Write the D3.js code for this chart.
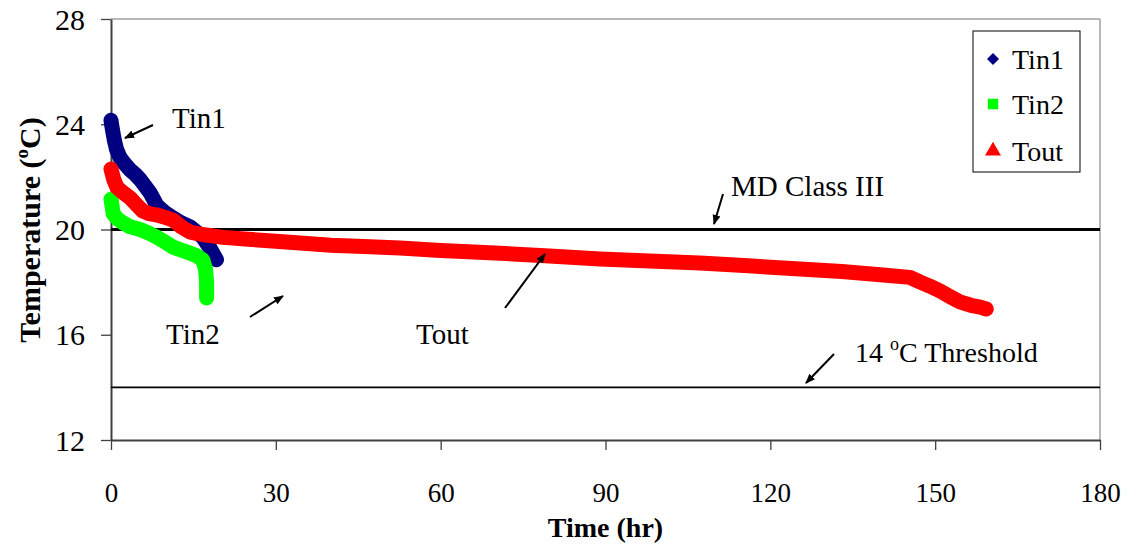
<!DOCTYPE html>
<html><head><meta charset="utf-8">
<script src="https://cdn.jsdelivr.net/npm/d3@7"></script>
<style>body{margin:0;background:#fff}svg{display:block}text{font-family:"Liberation Serif","Times New Roman",serif;fill:#000}</style>
</head><body><svg id="c" width="1136" height="547"></svg>
<script>
// ---- data ----
const xTicks = [0, 30, 60, 90, 120, 150, 180];
const yTicks = [12, 16, 20, 24, 28];
const seriesNames = ["Tin1", "Tin2", "Tout"];
const tin1Time = [0, 0.1, 0.3, 0.6, 1.0, 1.6, 2.5, 3.5, 4.4, 5.3, 6.2, 7.1, 8.4, 9.8, 11.3, 12.8, 14.4, 15.6, 16.7, 18.0, 19.2];
const tin1Temp = [24.15, 24.0, 23.75, 23.4, 23.05, 22.75, 22.5, 22.26, 22.1, 21.9, 21.65, 21.4, 20.9, 20.65, 20.44, 20.25, 20.1, 19.9, 19.7, 19.3, 18.85];
const tin2Time = [0, 0.4, 1.2, 2.2, 3.5, 5.3, 7.0, 8.4, 10.0, 11.3, 13.0, 14.4, 15.6, 16.7, 17.2, 17.4, 17.4];
const tin2Temp = [21.15, 20.6, 20.4, 20.25, 20.1, 20.0, 19.85, 19.7, 19.5, 19.33, 19.2, 19.1, 19.0, 18.84, 18.5, 18.0, 17.4];
const toutTime = [0, 0.5, 1.1, 2.2, 3.5, 4.6, 5.8, 7.0, 8.4, 10.0, 11.3, 12.8, 14.4, 17.0, 20.4, 25, 30, 34.4, 40, 46, 52.6, 60, 65, 70.8, 79, 89, 98, 107.2, 116, 125.4, 133, 140, 145.4, 147.3, 149, 150.9, 152.7, 154.5, 156.5, 158.2, 159.3];
const toutTemp = [22.3, 21.9, 21.6, 21.4, 21.2, 20.95, 20.7, 20.6, 20.55, 20.45, 20.36, 20.1, 19.9, 19.8, 19.7, 19.63, 19.55, 19.49, 19.4, 19.35, 19.3, 19.2, 19.15, 19.1, 19.0, 18.88, 18.8, 18.73, 18.62, 18.5, 18.4, 18.28, 18.18, 18.0, 17.85, 17.66, 17.45, 17.25, 17.12, 17.05, 16.98];
const mdClassIII = 20;
const threshold = 14;

// ---- drawing ----
const svg = d3.select("#c");
const L = 111, R = 1100, T = 19, B = 440;
const x = d3.scaleLinear().domain([0, 180]).range([L, R]);
const y = d3.scaleLinear().domain([12, 28]).range([B, T]);
const colors = {Tin1: "#000080", Tin2: "#00ff00", Tout: "#ff0000"};

// plot frame (top/right light)
svg.append("line").attr("x1", L).attr("x2", R).attr("y1", T).attr("y2", T).attr("stroke", "#a0a0a0").attr("stroke-width", 1.5);
svg.append("line").attr("x1", R).attr("x2", R).attr("y1", T).attr("y2", B).attr("stroke", "#a0a0a0").attr("stroke-width", 1.5);

// axes
const xAxis = svg.append("g").attr("transform", `translate(0,${B})`)
  .call(d3.axisBottom(x).tickValues(xTicks).tickSize(10).tickSizeOuter(0).tickPadding(33));
const yAxis = svg.append("g").attr("transform", `translate(${L},0)`)
  .call(d3.axisLeft(y).tickValues(yTicks).tickSize(10).tickSizeOuter(0).tickPadding(16));
[xAxis, yAxis].forEach(g => {
  g.select(".domain").attr("stroke", "#404040").attr("stroke-width", 2);
  g.selectAll(".tick line").attr("stroke", "#404040").attr("stroke-width", 1.3);
  g.selectAll("text").style("font-family", "Liberation Serif").attr("fill", "#000");
});
xAxis.selectAll("text").style("font-size", "27px");
yAxis.selectAll("text").style("font-size", "30px").attr("dy", "0.34em");

// reference lines
svg.append("line").attr("x1", x(0)).attr("x2", x(180)).attr("y1", y(mdClassIII)).attr("y2", y(mdClassIII))
  .attr("stroke", "#000").attr("stroke-width", 3.2);
svg.append("line").attr("x1", x(0)).attr("x2", x(180)).attr("y1", y(threshold)).attr("y2", y(threshold))
  .attr("stroke", "#000").attr("stroke-width", 1.6);

// series as dense marker bands
const series = [
  {name: "Tin1", t: tin1Time, v: tin1Temp},
  {name: "Tin2", t: tin2Time, v: tin2Temp},
  {name: "Tout", t: toutTime, v: toutTemp}
];
const line = d3.line().x(d => x(d[0])).y(d => y(d[1]));
series.forEach(s => {
  const pts = s.t.map((t, i) => [t, s.v[i]]);
  svg.append("path").attr("d", line(pts)).attr("fill", "none")
    .attr("stroke", colors[s.name]).attr("stroke-width", 15)
    .attr("stroke-linejoin", "round").attr("stroke-linecap", "round");
});

// annotations
const defs = svg.append("defs");
defs.append("marker").attr("id", "ah").attr("viewBox", "0 0 10 10").attr("refX", 9).attr("refY", 5)
  .attr("markerWidth", 5).attr("markerHeight", 5).attr("orient", "auto")
  .append("path").attr("d", "M0,1 L10,5 L0,9 Z").attr("fill", "#000");
const arrows = [[153, 125, 125, 138], [723, 194, 714, 224], [505, 308, 545, 254], [250, 317, 283, 296], [834, 354, 806, 383]];
arrows.forEach(a => svg.append("line").attr("x1", a[0]).attr("y1", a[1]).attr("x2", a[2]).attr("y2", a[3])
  .attr("stroke", "#000").attr("stroke-width", 2).attr("marker-end", "url(#ah)"));
const notes = [["Tin1", 172, 128], ["MD Class III", 731, 196], ["Tin2", 166, 344], ["Tout", 416, 344]];
notes.forEach(n => svg.append("text").attr("x", n[1]).attr("y", n[2]).style("font-size", "29px").text(n[0]));
const th = svg.append("text").attr("x", 855).attr("y", 362).style("font-size", "28px");
th.append("tspan").text("14 ");
th.append("tspan").attr("dy", -12).style("font-size", "18px").text("o");
th.append("tspan").attr("dy", 12).text("C Threshold");

// axis titles
svg.append("text").attr("x", x(90)).attr("y", 537).attr("text-anchor", "middle")
  .style("font-size", "28px").style("font-weight", "bold").text("Time (hr)");
const yt = svg.append("text").attr("transform", "translate(40,230) rotate(-90)").attr("text-anchor", "middle")
  .style("font-size", "30px").style("font-weight", "bold");
yt.append("tspan").text("Temperature (");
yt.append("tspan").attr("dy", -12).style("font-size", "19px").text("o");
yt.append("tspan").attr("dy", 12).text("C)");

// legend
const lg = svg.append("g");
lg.append("rect").attr("x", 973).attr("y", 31).attr("width", 107).attr("height", 141)
  .attr("fill", "#fff").attr("stroke", "#000").attr("stroke-width", 1);
const sym = {Tin1: d3.symbolSquare, Tin2: d3.symbolSquare, Tout: d3.symbolTriangle};
const sizes = {Tin1: 72, Tin2: 110, Tout: 110};
const rot = {Tin1: 45, Tin2: 0, Tout: 0};
seriesNames.forEach((n, i) => {
  const cy = [59, 104, 151][i];
  lg.append("path").attr("d", d3.symbol(sym[n], sizes[n])())
    .attr("transform", `translate(993,${cy}) rotate(${rot[n]})`).attr("fill", colors[n]);
  lg.append("text").attr("x", 1012).attr("y", cy + 10).style("font-size", "28px").text(n);
});
</script></body></html>
